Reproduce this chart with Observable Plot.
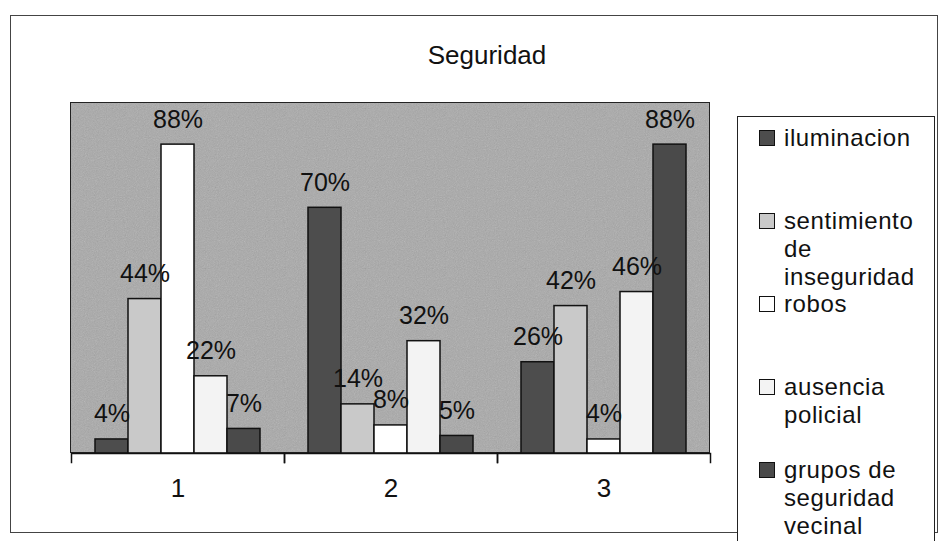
<!DOCTYPE html>
<html>
<head>
<meta charset="utf-8">
<script src="https://cdn.jsdelivr.net/npm/d3@7"></script>
<script src="https://cdn.jsdelivr.net/npm/@observablehq/plot@0.6"></script>
<style>
  html, body { margin: 0; padding: 0; background: #fff; }
  #wrap { position: relative; width: 942px; height: 541px; overflow: hidden; font-family: "Liberation Sans", Arial, sans-serif; color: #111; }
  #outer { position: absolute; left: 10px; top: 15px; width: 928px; height: 518px; border: 1.5px solid #444; box-sizing: border-box; }
  #title { position: absolute; left: 387px; top: 40px; width: 200px; text-align: center; font-size: 26px; line-height: 30px; }
  #plotbg { position: absolute; left: 70px; top: 102px; width: 640px; height: 351px; background-color: #a8a8a8; border: 1.5px solid #222; box-sizing: border-box; }
  #chart { position: absolute; left: 0; top: 0; }
  #legend { position: absolute; left: 737px; top: 116px; width: 198px; height: 460px; border: 1.5px solid #222; box-sizing: border-box; background: #fff; }
  .item { position: absolute; left: 0; font-size: 24px; line-height: 28px; letter-spacing: 0.6px; }
  .sw { position: absolute; width: 14px; height: 14px; border: 1.5px solid #111; top: 6px; }
  .lab { position: absolute; white-space: nowrap; }
</style>
</head>
<body>
<div id="wrap">
  <div id="outer"></div>
  <div id="title"></div>
  <div id="plotbg"></div>
  <div id="chart"></div>
  <div id="legend"></div>
</div>
<script>
const title = "Seguridad";
const groups = ["1", "2", "3"];
const series = ["iluminacion", "sentimiento de inseguridad", "robos", "ausencia policial", "grupos de seguridad vecinal"];
const legendLines = [["iluminacion"], ["sentimiento", "de", "inseguridad"], ["robos"], ["ausencia", "policial"], ["grupos de", "seguridad", "vecinal"]];
const fills = ["#4d4d4d", "#c9c9c9", "#ffffff", "#f3f3f3", "#4a4a4a"];
const values1 = [4, 44, 88, 22, 7];
const values2 = [70, 14, 8, 32, 5];
const values3 = [26, 42, 4, 46, 88];

const data = [];
[values1, values2, values3].forEach((vals, gi) => {
  vals.forEach((v, si) => data.push({group: groups[gi], series: series[si], value: v}));
});

document.getElementById("title").textContent = title;

// scanned halftone-like texture for the plot background
const noise = "data:image/svg+xml;utf8," + encodeURIComponent(
  "<svg xmlns='http://www.w3.org/2000/svg' width='160' height='160'>" +
  "<filter id='n'><feTurbulence type='fractalNoise' baseFrequency='0.9' numOctaves='2' stitchTiles='stitch'/>" +
  "<feColorMatrix type='saturate' values='0'/></filter>" +
  "<rect width='160' height='160' filter='url(#n)' opacity='0.35'/></svg>");
document.getElementById("plotbg").style.backgroundImage = `url("${noise}")`;

const chart = Plot.plot({
  width: 730,
  height: 541,
  marginLeft: 70,
  marginRight: 20,
  marginTop: 102,
  marginBottom: 88,
  style: {background: "transparent", fontFamily: "'Liberation Sans', Arial, sans-serif", color: "#111", overflow: "visible"},
  fx: {domain: groups, padding: 0, label: null},
  x: {domain: series, paddingInner: 0, paddingOuter: 0.65, axis: null},
  y: {domain: [0, 100], axis: null},
  color: {domain: series, range: fills},
  marks: [
    Plot.barY(data, {fx: "group", x: "series", y: "value", fill: "series", stroke: "#111", strokeWidth: 1.5}),
    Plot.ruleY([0], {stroke: "#111", strokeWidth: 1.5}),
    Plot.frame({anchor: "left", insetTop: 351, insetBottom: -9, stroke: "#111", strokeWidth: 1.5}),
    Plot.frame({anchor: "right", insetTop: 351, insetBottom: -9, stroke: "#111", strokeWidth: 1.5}),
    Plot.text(data, {fx: "group", x: "series", y: "value", text: d => d.value + "%", lineAnchor: "bottom", dy: -17, fontSize: 25, fill: "#111"}),
    Plot.axisFx({anchor: "bottom", tickSize: 0, tickPadding: 25, fontSize: 26, label: null, fill: "#111"})
  ]
});
document.getElementById("chart").appendChild(chart);

const legend = document.getElementById("legend");
legendLines.forEach((lines, i) => {
  const item = document.createElement("div");
  item.className = "item";
  item.style.top = (7 + i * 83) + "px";
  const sw = document.createElement("div");
  sw.className = "sw";
  sw.style.left = "21px";
  sw.style.background = fills[i];
  item.appendChild(sw);
  lines.forEach((t, j) => {
    const l = document.createElement("div");
    l.className = "lab";
    l.style.left = "46px";
    l.style.top = (j * 28) + "px";
    l.textContent = t;
    item.appendChild(l);
  });
  legend.appendChild(item);
});
</script>
</body>
</html>
